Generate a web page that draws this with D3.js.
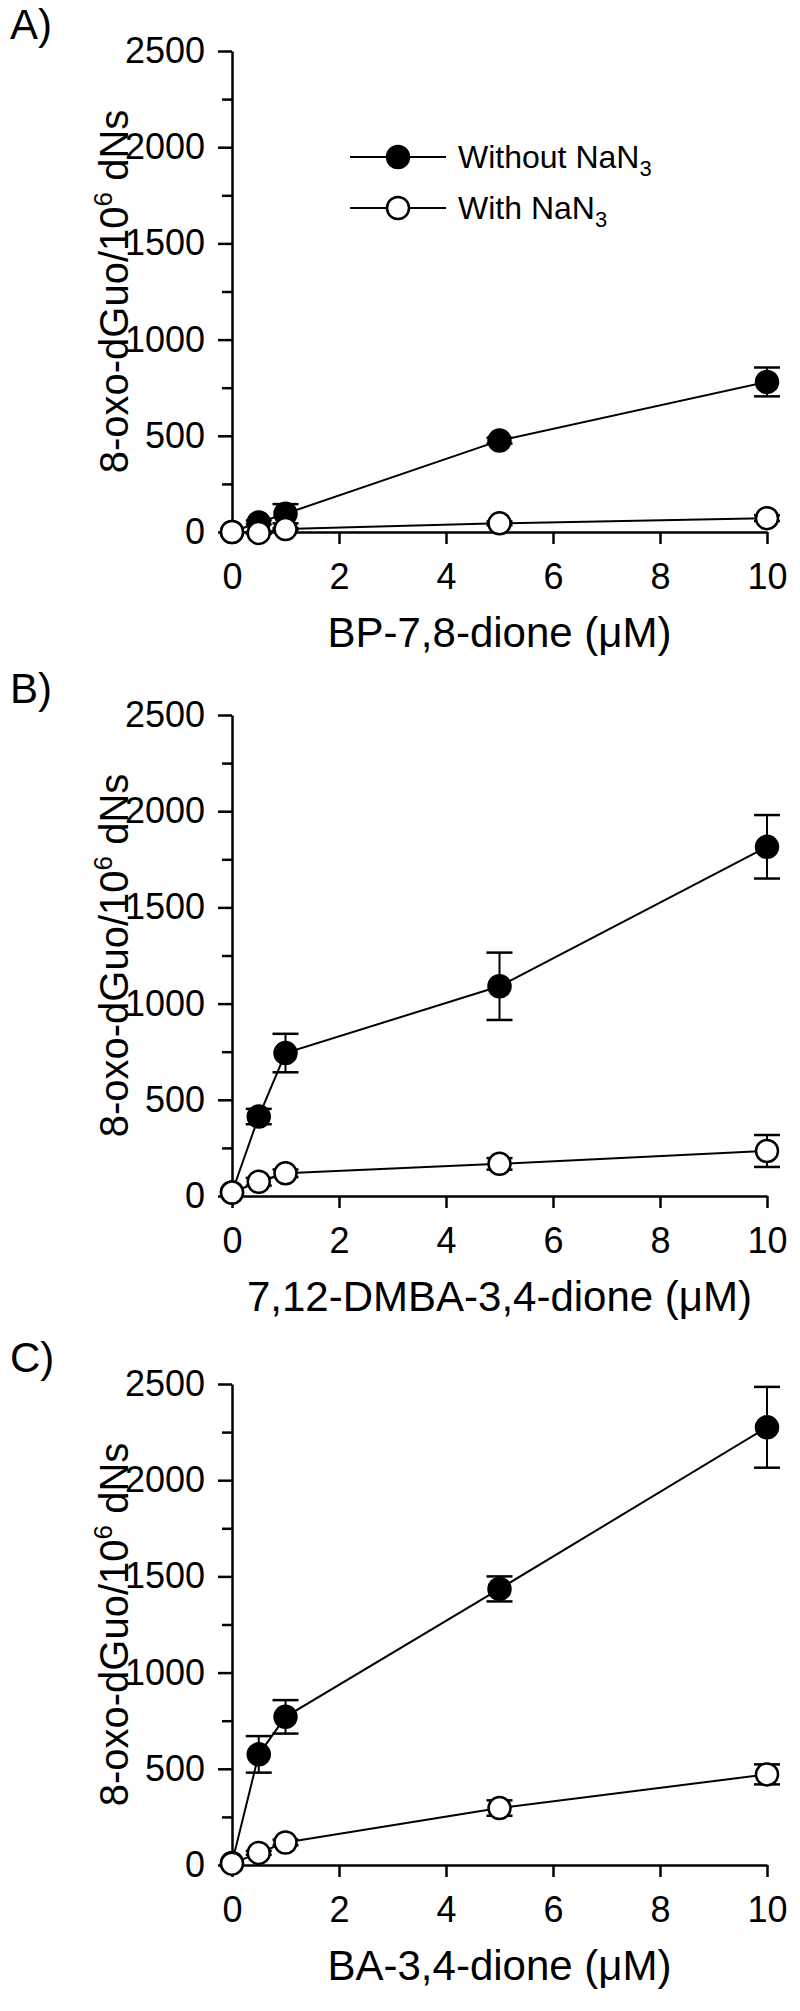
<!DOCTYPE html>
<html><head><meta charset="utf-8">
<script src="https://cdnjs.cloudflare.com/ajax/libs/d3/7.8.5/d3.min.js"></script>
<style>body{margin:0;background:#fff} text{font-family:"Liberation Sans", Arial, sans-serif;fill:#000}</style>
</head><body><svg id="c" width="800" height="2011"></svg>
<script>
const concentrations = [0, 0.5, 1, 5, 10];
const panelLabels = ["A)", "B)", "C)"];
const xTitles = ["BP-7,8-dione (\u03bcM)", "7,12-DMBA-3,4-dione (\u03bcM)", "BA-3,4-dione (\u03bcM)"];
const xTicks = [0, 2, 4, 6, 8, 10];
const yTicks = [0, 500, 1000, 1500, 2000, 2500];
const yMinorTicks = [250, 750, 1250, 1750, 2250];
const seriesNames = ["Without NaN", "With NaN"];

// Panel A: BP-7,8-dione
const aWithout    = [0, 50, 95, 475, 780];
const aWithoutErr = [0, 10, 50, 15, 75];
const aWith       = [0, -5, 15, 45, 72];
const aWithErr    = [0, 5, 5, 10, 15];
// Panel B: 7,12-DMBA-3,4-dione
const bWithout    = [18, 413, 743, 1090, 1815];
const bWithoutErr = [0, 40, 100, 175, 165];
const bWith       = [18, 74, 118, 167, 234];
const bWithErr    = [0, 20, 20, 30, 83];
// Panel C: BA-3,4-dione
const cWithout    = [11, 575, 770, 1435, 2275];
const cWithoutErr = [0, 95, 87, 65, 210];
const cWith       = [7, 63, 117, 296, 471];
const cWithErr    = [0, 10, 15, 40, 52];

const panels = [
  {without: aWithout, withoutErr: aWithoutErr, with: aWith, withErr: aWithErr},
  {without: bWithout, withoutErr: bWithoutErr, with: bWith, withErr: bWithErr},
  {without: cWithout, withoutErr: cWithoutErr, with: cWith, withErr: cWithErr}
];

const svg = d3.select("#c");
const panelTop = [51, 715, 1384];
const plotH = 481, left = 232, right = 767;
const R = 11, capW = 13;

panels.forEach((p, i) => {
  const top = panelTop[i], bottom = top + plotH;
  const x = d3.scaleLinear().domain([0, 10]).range([left, right]);
  const y = d3.scaleLinear().domain([0, 2500]).range([bottom, top]);
  const g = svg.append("g");

  // panel label
  g.append("text").attr("x", 10).attr("y", top - 12).attr("font-size", 42).text(panelLabels[i]);

  // y axis
  g.append("g").attr("transform", `translate(${left},0)`)
    .call(d3.axisLeft(y).tickValues(yTicks).tickSize(14).tickPadding(13).tickSizeOuter(0).tickFormat(d3.format("d")));
  g.append("g").attr("transform", `translate(${left},0)`)
    .call(d3.axisLeft(y).tickValues(yMinorTicks).tickSize(10).tickFormat("").tickSizeOuter(0))
    .select(".domain").remove();
  // x axis
  g.append("g").attr("transform", `translate(0,${bottom})`)
    .call(d3.axisBottom(x).tickValues(xTicks).tickSize(12).tickPadding(19).tickSizeOuter(0).tickFormat(d3.format("d")));
  g.selectAll(".domain, .tick line").attr("stroke", "#000").attr("stroke-width", 2.5);
  g.selectAll(".tick text").attr("font-size", 36).attr("font-family", "Liberation Sans, Arial, sans-serif").attr("fill", "#000");

  // axis titles
  g.append("text").attr("x", (left + right) / 2).attr("y", bottom + 115)
    .attr("text-anchor", "middle").attr("font-size", 42).text(xTitles[i]);
  const yt = g.append("text").attr("text-anchor", "middle").attr("font-size", 40)
    .attr("transform", `translate(128,${(top + bottom) / 2}) rotate(-90)`);
  yt.append("tspan").text("8-oxo-dGuo/10");
  yt.append("tspan").attr("font-size", 26).attr("dy", -16).text("6");
  yt.append("tspan").attr("dy", 16).text(" dNs");

  const line = d3.line().x((d, k) => x(concentrations[k])).y(d => y(d));

  const drawSeries = (vals, errs, filled) => {
    g.append("path").datum(vals).attr("d", line).attr("fill", "none")
      .attr("stroke", "#000").attr("stroke-width", 2);
    vals.forEach((v, k) => {
      const e = errs[k];
      if (e > 0) {
        const cx = x(concentrations[k]);
        g.append("line").attr("x1", cx).attr("x2", cx).attr("y1", y(v - e)).attr("y2", y(v + e))
          .attr("stroke", "#000").attr("stroke-width", 2);
        [v - e, v + e].forEach(t => g.append("line").attr("x1", cx - capW).attr("x2", cx + capW)
          .attr("y1", y(t)).attr("y2", y(t)).attr("stroke", "#000").attr("stroke-width", 2.5));
      }
    });
    g.selectAll(null).data(vals).enter().append("circle")
      .attr("cx", (d, k) => x(concentrations[k])).attr("cy", d => y(d)).attr("r", R)
      .attr("fill", filled ? "#000" : "#fff").attr("stroke", "#000").attr("stroke-width", 2.5);
  };
  drawSeries(p.without, p.withoutErr, true);
  drawSeries(p.with, p.withErr, false);

  if (i === 0) {
    const rows = [top + 106, top + 157];
    rows.forEach((ry, k) => {
      g.append("line").attr("x1", 350).attr("x2", 446).attr("y1", ry).attr("y2", ry)
        .attr("stroke", "#000").attr("stroke-width", 2);
      g.append("circle").attr("cx", 398).attr("cy", ry).attr("r", R)
        .attr("fill", k === 0 ? "#000" : "#fff").attr("stroke", "#000").attr("stroke-width", 2.5);
      const t = g.append("text").attr("x", 458).attr("y", ry + 11).attr("font-size", 32);
      t.append("tspan").text(seriesNames[k]);
      t.append("tspan").attr("font-size", 22).attr("dy", 8).text("3");
    });
  }
});
</script></body></html>
